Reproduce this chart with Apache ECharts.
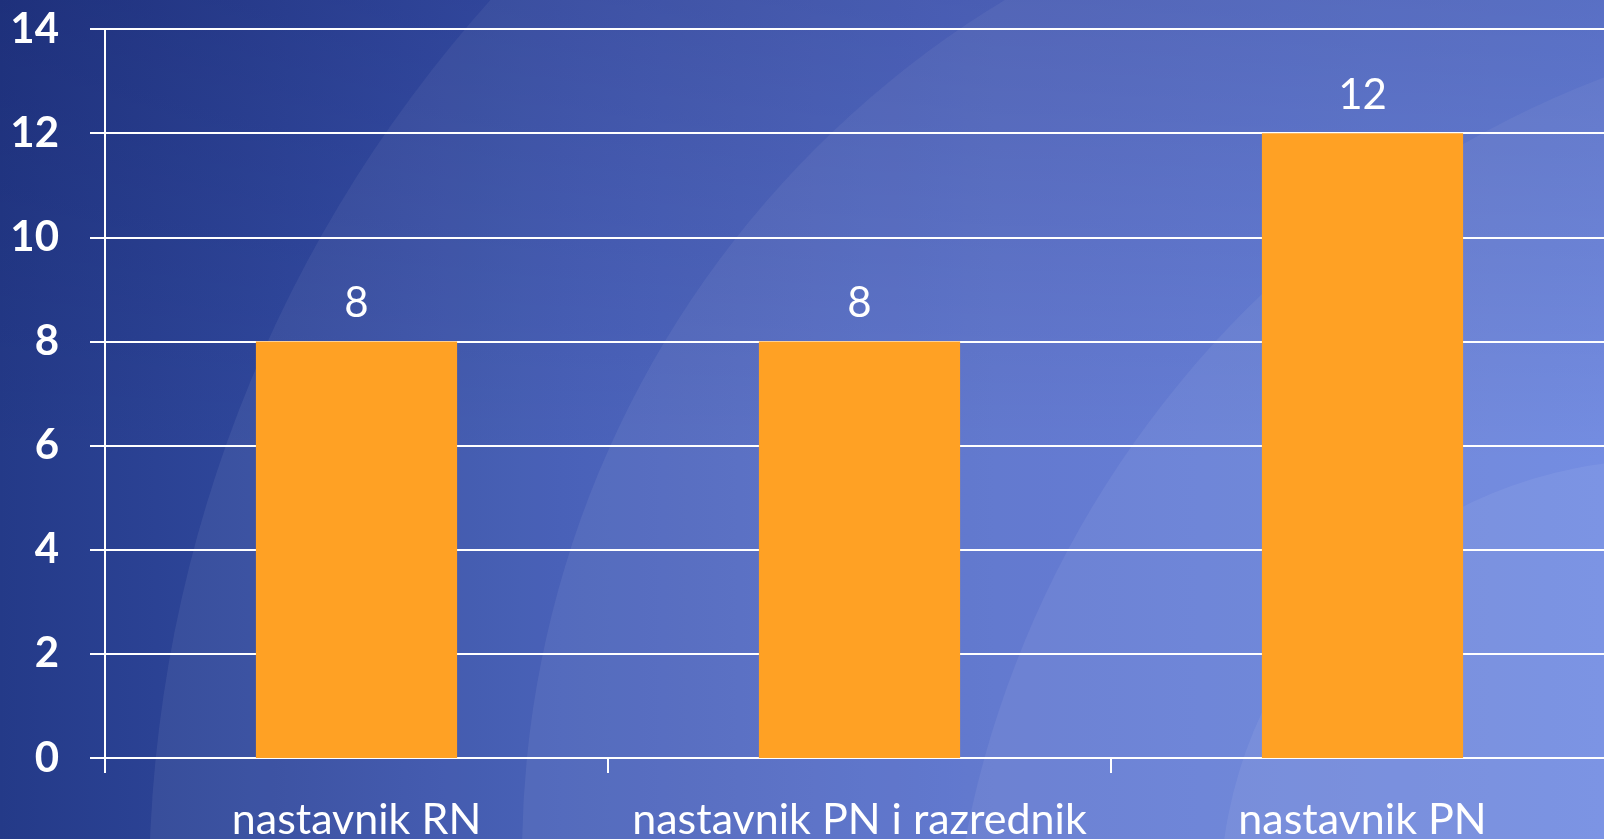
<!DOCTYPE html>
<html lang="hr">

<head>
    <meta charset="UTF-8">
    <title>Nastavnici</title>
    <script src="https://cdn.jsdelivr.net/npm/echarts@6/dist/echarts.min.js"></script>
    <style>
        html, body { margin: 0; padding: 0; overflow: hidden; }
        #main { width: 1604px; height: 839px; }
    </style>
</head>

<body>
    <div id="main"></div>
    <script>
        // podaci
        var categories = ['nastavnik RN', 'nastavnik PN i razrednik', 'nastavnik PN'];
        var counts = [8, 8, 12];
        var yMin = 0;
        var yMax = 14;
        var yStep = 2;

        var fontName = 'Lato';
        var myChart = echarts.init(document.getElementById('main'));

        // pozadina kao u prezentaciji: tamno plavi prijelaz i svijetli lukovi
        var bgArcs = [
            { cx: 1485, cy: 892, r: 1336 },
            { cx: 1524, cy: 857, r: 1002 },
            { cx: 1969, cy: 1032, r: 1022 },
            { cx: 1660, cy: 900, r: 440 }
        ];
        var bgElements = [{
            type: 'rect',
            silent: true,
            z: -10,
            shape: { x: 0, y: 0, width: 1604, height: 839 },
            style: {
                fill: new echarts.graphic.LinearGradient(0, 0, 1, 0, [
                    { offset: 0, color: '#243a88' },
                    { offset: 0.35, color: '#3d57b3' },
                    { offset: 0.62, color: '#4e68c9' },
                    { offset: 0.93, color: '#5574d8' },
                    { offset: 1, color: '#5776dc' }
                ])
            }
        }];
        bgArcs.forEach(function (a) {
            bgElements.push({
                type: 'circle',
                silent: true,
                z: -9,
                shape: { cx: a.cx, cy: a.cy, r: a.r },
                style: { fill: 'rgba(235,240,255,0.07)' }
            });
        });
        // gornji dio je tamniji
        bgElements.push({
            type: 'rect',
            silent: true,
            z: -8,
            shape: { x: 0, y: 0, width: 1604, height: 839 },
            style: {
                fill: new echarts.graphic.LinearGradient(0, 0, 0, 1, [
                    { offset: 0, color: 'rgba(0,0,60,0.17)' },
                    { offset: 0.55, color: 'rgba(0,0,60,0)' },
                    { offset: 1, color: 'rgba(0,0,60,0)' }
                ])
            }
        });

        var option = {
            animation: false,
            graphic: bgElements,
            grid: {
                left: 105,
                top: 29,
                width: 1509,
                height: 729,
                containLabel: false,
                outerBoundsMode: 'none'
            },
            xAxis: {
                type: 'category',
                data: categories,
                axisLine: {
                    show: true,
                    lineStyle: { color: '#fff', width: 2 }
                },
                axisTick: {
                    show: true,
                    length: 15,
                    lineStyle: { color: '#fff', width: 2 }
                },
                axisLabel: {
                    interval: 0,
                    color: '#fff',
                    fontSize: 43,
                    fontFamily: fontName,
                    margin: 41
                }
            },
            yAxis: {
                type: 'value',
                min: yMin,
                max: yMax,
                interval: yStep,
                axisLine: {
                    show: true,
                    lineStyle: { color: '#fff', width: 2 }
                },
                axisTick: {
                    show: true,
                    length: 15,
                    lineStyle: { color: '#fff', width: 2 }
                },
                splitLine: {
                    show: true,
                    lineStyle: { color: '#fff', width: 2 }
                },
                axisLabel: {
                    color: '#fff',
                    fontSize: 42,
                    fontWeight: 'bold',
                    fontFamily: fontName,
                    margin: 46
                }
            },
            series: [{
                type: 'bar',
                data: counts,
                barWidth: '40%',
                itemStyle: { color: '#ffa124' },
                label: {
                    show: true,
                    position: 'top',
                    distance: 17,
                    color: '#fff',
                    fontSize: 42,
                    fontFamily: fontName
                }
            }]
        };
        myChart.setOption(option);
    </script>
</body>

</html>
